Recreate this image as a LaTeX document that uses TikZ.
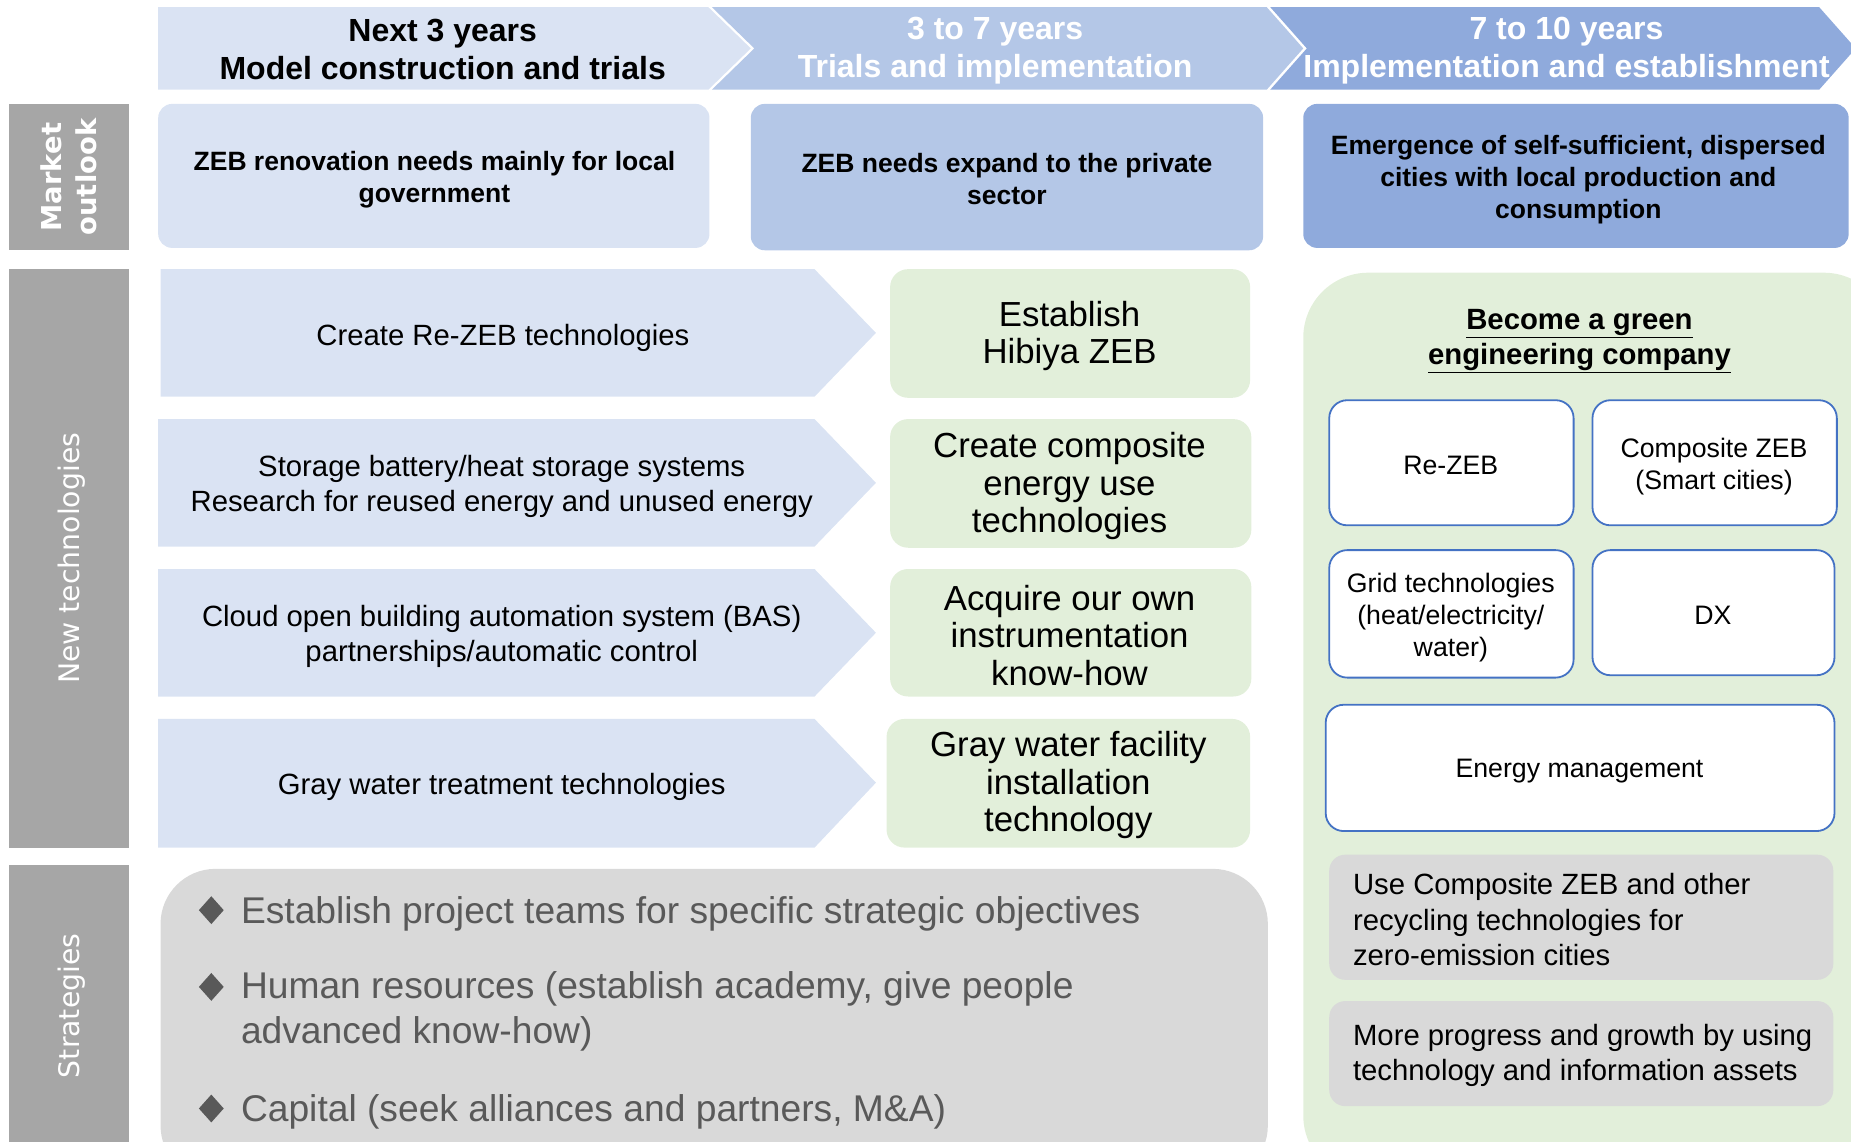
\documentclass[tikz,border=0pt]{standalone}
\usepackage{fontspec}
\setmainfont{Liberation Sans}
\newfontfamily\dejavu{DejaVu Sans}
\usetikzlibrary{shapes.geometric}
\definecolor{blueA}{HTML}{DAE3F3}
\definecolor{blueB}{HTML}{B4C7E7}
\definecolor{blueC}{HTML}{8FAADC}
\definecolor{sidegray}{HTML}{A6A6A6}
\definecolor{greenL}{HTML}{E2EFDA}
\definecolor{grayL}{HTML}{D9D9D9}
\definecolor{blueBorder}{HTML}{4472C4}
\definecolor{stratText}{HTML}{595959}
\tikzset{
  hdr/.style={font=\fontsize{32}{38}\selectfont\bfseries, align=center, inner sep=0pt},
  mkt/.style={font=\fontsize{26.5}{32}\selectfont\bfseries, align=center, inner sep=0pt},
  rowtxt/.style={font=\fontsize{29.3}{35.5}\selectfont, align=center, inner sep=0pt},
  grntxt/.style={font=\fontsize{34.8}{37.5}\selectfont, align=center, inner sep=0pt},
  wbxtxt/.style={font=\fontsize{26.7}{32}\selectfont, align=center, inner sep=0pt},
  gbxtxt/.style={font=\fontsize{29.3}{35.5}\selectfont, align=left, anchor=west, inner sep=0pt},
  strtxt/.style={font=\fontsize{37.2}{45}\selectfont, text=stratText, align=left, anchor=west, inner sep=0pt},
  sidetxt/.style={font=\dejavu\fontsize{28.3}{32}\selectfont, text=white, align=center, rotate=90, inner sep=0pt},
  bullet/.style={diamond, fill=stratText, inner sep=0pt, minimum width=25pt, minimum height=28pt},
  mbox/.style={rounded corners=14pt},
  gbox/.style={fill=greenL, rounded corners=18pt},
  wbox/.style={fill=white, draw=blueBorder, line width=1.8pt, rounded corners=18pt},
  graybox/.style={fill=grayL, rounded corners=16pt},
}
\begin{document}
\begin{tikzpicture}[x=1.1805pt,y=-1.1805pt]
\useasboundingbox (0,0) rectangle (1568,967);
\clip (0,0) rectangle (1568,967);

% side labels
\fill[sidegray] (8,88) rectangle (109,212);
\fill[sidegray] (8,228) rectangle (109,718);
\fill[sidegray] (8,733) rectangle (109,975);
\node[sidetxt, font=\dejavu\fontsize{27.4}{35}\selectfont\bfseries] (lmkt) at (58,150) {Market\\outlook};
\node[sidetxt] (lnew) at (61,473) {New technologies};
\node[sidetxt] (lstr) at (61,852) {Strategies};

% header arrows
\fill[blueA] (134,6) -- (600,6) -- (636,41) -- (600,76) -- (134,76) -- cycle;
\fill[blueB] (603,6) -- (1073,6) -- (1104,41) -- (1073,76) -- (603,76) -- (639,41) -- cycle;
\fill[blueC] (1076,6) -- (1541,6) -- (1572,41) -- (1541,76) -- (1076,76) -- (1107,41) -- cycle;
\node[hdr] (h1) at (375,42) {Next 3 years\\Model construction and trials};
\node[hdr, text=white] (h2) at (843,43) {3 to 7 years\\Trials and implementation};
\node[hdr, text=white] (h3) at (1327,43) {7 to 10 years\\Implementation and establishment};

% market outlook boxes
\fill[blueA, mbox] (134,88) rectangle (601,210);
\fill[blueB, mbox] (636,88) rectangle (1070,212);
\fill[blueC, mbox] (1104,88) rectangle (1566,210);
\node[mkt] (m1) at (368,152.5) {ZEB renovation needs mainly for local\\government};
\node[mkt] (m2) at (853,152) {ZEB needs expand to the private\\sector};
\node[mkt] (m3) at (1337,152) {Emergence of self-sufficient, dispersed\\cities with local production and\\consumption};

% technology chevrons
\fill[blueA] (136,228) -- (690,228) -- (742,282) -- (690,336) -- (136,336) -- cycle;
\fill[blueA] (134,355) -- (690,355) -- (742,409) -- (690,463) -- (134,463) -- cycle;
\fill[blueA] (134,482) -- (690,482) -- (742,536) -- (690,590) -- (134,590) -- cycle;
\fill[blueA] (134,609) -- (690,609) -- (742,663) -- (690,718) -- (134,718) -- cycle;
\node[rowtxt] (t1) at (426,286) {Create Re-ZEB technologies};
\node[rowtxt] (t2) at (425,412) {Storage battery/heat storage systems\\Research for reused energy and unused energy};
\node[rowtxt] (t3) at (425,539) {Cloud open building automation system (BAS)\\partnerships/automatic control};
\node[rowtxt] (t4) at (425,667) {Gray water treatment technologies};

% green boxes
\fill[gbox] (754,228) rectangle (1059,337);
\fill[gbox] (754,355) rectangle (1060,464);
\fill[gbox] (754,482) rectangle (1060,590);
\fill[gbox] (751,609) rectangle (1059,718);
\node[grntxt] (g1) at (906,284.5) {Establish\\Hibiya ZEB};
\node[grntxt] (g2) at (906,412) {Create composite\\energy use\\technologies};
\node[grntxt] (g3) at (906,538) {Acquire our own\\instrumentation\\know-how};
\node[grntxt] (g4) at (905,665) {Gray water facility\\installation\\technology};

% right green panel
\fill[greenL, rounded corners=65pt] (1104,231) rectangle (1600,1000);
\node[font=\fontsize{29.3}{35.5}\selectfont\bfseries, align=center, inner sep=0pt] (title) at (1338,289) {\underline{Become a green}\\\underline{engineering company}};
\draw[wbox] (1126,339) rectangle (1333,445);
\draw[wbox] (1349,339) rectangle (1556,445);
\draw[wbox] (1126,466) rectangle (1333,574);
\draw[wbox] (1349,466) rectangle (1554,572);
\draw[wbox] (1123,597) rectangle (1554,704);
\node[wbxtxt] (w1) at (1229,394) {Re-ZEB};
\node[wbxtxt] (w2) at (1452,395) {Composite ZEB\\(Smart cities)};
\node[wbxtxt] (w3) at (1229,523) {Grid technologies\\(heat/electricity/\\water)};
\node[wbxtxt] (w4) at (1451,521) {DX};
\node[wbxtxt] (w5) at (1338,653) {Energy management};
\fill[graybox] (1126,724) rectangle (1553,830);
\fill[graybox] (1126,848) rectangle (1553,937);
\node[gbxtxt] (r1) at (1146,779) {Use Composite ZEB and other\\recycling technologies for\\zero-emission cities};
\node[gbxtxt] (r2) at (1146,894) {More progress and growth by using\\technology and information assets};

% strategies panel
\fill[grayL, rounded corners=55pt] (136,736) rectangle (1074,1000);
\node[bullet] (b1) at (179,771) {};
\node[bullet] (b2) at (179,836) {};
\node[bullet] (b3) at (179,939) {};
\node[strtxt] (s1) at (204,774) {Establish project teams for specific strategic objectives};
\node[strtxt] (s2) at (204,857) {Human resources (establish academy, give people\\advanced know-how)};
\node[strtxt] (s3) at (204,942) {Capital (seek alliances and partners, M\&A)};
\end{tikzpicture}
\end{document}
